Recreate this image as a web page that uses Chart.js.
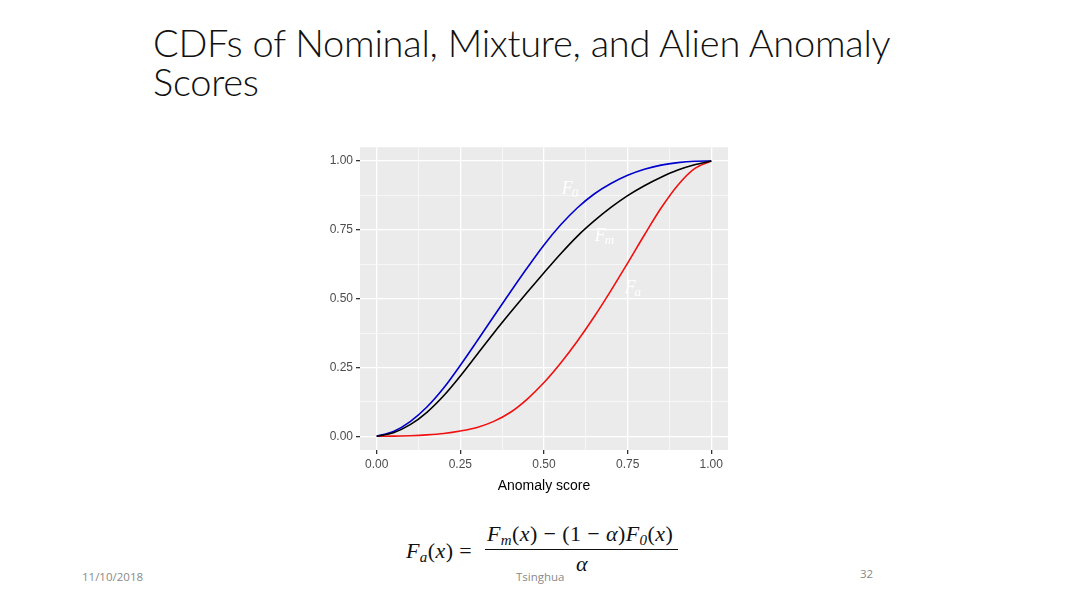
<!DOCTYPE html>
<html>
<head>
<meta charset="utf-8">
<script src="https://cdn.jsdelivr.net/npm/chart.js@4.4.1/dist/chart.umd.min.js"></script>
<style>
  body { margin: 0; width: 1080px; height: 607px; background: #fff; position: relative; overflow: hidden; font-family: Lato, sans-serif; }
  #title { position: absolute; left: 153px; top: 23px; font-size: 38px; line-height: 39px; letter-spacing: -0.25px; color: #111; font-weight: 300; white-space: nowrap; }
  #wrap { position: absolute; left: 300px; top: 137px; width: 440px; height: 363px; }
  .foot { position: absolute; font-family: 'Open Sans', sans-serif; font-size: 11.5px; color: #8a8a8a; }
  .fx { position: absolute; font-family: 'Liberation Serif', serif; font-size: 22px; letter-spacing: 0.4px; color: #111; white-space: nowrap; }
  .fx i { font-style: italic; }
  .fx sub { font-size: 15px; font-style: italic; vertical-align: -4px; line-height: 0; }
</style>
</head>
<body>
<div id="title">CDFs of Nominal, Mixture, and Alien Anomaly<br>Scores</div>
<div id="wrap"><canvas id="cdfChart"></canvas></div>

<div class="fx" style="left:406px;top:538px"><i>F</i><sub>a</sub>(<i>x</i>) =</div>
<div class="fx" style="left:487px;top:521px"><i>F</i><sub>m</sub>(<i>x</i>) − (1 − <i>α</i>)<i>F</i><sub>0</sub>(<i>x</i>)</div>
<div style="position:absolute;left:485px;top:549px;width:193px;height:1.3px;background:#111"></div>
<div class="fx" style="left:576px;top:551px"><i>α</i></div>

<div class="foot" style="left:82px;top:569px">11/10/2018</div>
<div class="foot" style="left:516px;top:569px">Tsinghua</div>
<div class="foot" style="left:860px;top:566px">32</div>

<script>
// anomaly score grid
const scores = [0, 0.05, 0.1, 0.15, 0.2, 0.25, 0.3, 0.35, 0.4, 0.45, 0.5, 0.55, 0.6, 0.65, 0.7, 0.75, 0.8, 0.85, 0.9, 0.95, 1];
// F0 - nominal (blue)
const nominalCdf = [0, 0.017, 0.053, 0.106, 0.175, 0.258, 0.346, 0.436, 0.525, 0.612, 0.695, 0.768, 0.83, 0.88, 0.918, 0.948, 0.97, 0.985, 0.994, 0.999, 1];
// Fm - mixture (black)
const mixtureCdf = [0, 0.013, 0.042, 0.087, 0.147, 0.219, 0.297, 0.375, 0.45, 0.523, 0.594, 0.663, 0.727, 0.782, 0.831, 0.874, 0.91, 0.941, 0.967, 0.986, 1];
// Fa - alien (red)
const alienCdf = [0, 0.0003, 0.002, 0.005, 0.01, 0.019, 0.032, 0.054, 0.087, 0.135, 0.195, 0.266, 0.346, 0.434, 0.529, 0.629, 0.731, 0.829, 0.912, 0.972, 1];

const majorBreaks = [0, 0.25, 0.5, 0.75, 1];
const gridBreaks = [0, 0.125, 0.25, 0.375, 0.5, 0.625, 0.75, 0.875, 1];

// in-panel curve labels
const labelSubs = ['0', 'm', 'a'];
const labelX = [0.553, 0.652, 0.741];
const labelY = [0.88, 0.71, 0.519];

const tickFont = { family: "'Liberation Sans', Arial, sans-serif", size: 12 };
const isMajor = v => majorBreaks.includes(v);
const toPoints = ys => scores.map((x, i) => ({ x, y: ys[i] }));

const panelBg = {
  id: 'panelBg',
  beforeDraw(chart) {
    const { ctx, chartArea: a } = chart;
    ctx.save();
    ctx.fillStyle = '#ebebeb';
    ctx.fillRect(a.left, a.top, a.width, a.height);
    ctx.restore();
  }
};

const curveLabels = {
  id: 'curveLabels',
  afterDatasetsDraw(chart) {
    const { ctx, scales: { x, y } } = chart;
    ctx.save();
    ctx.fillStyle = '#ffffff';
    labelSubs.forEach((s, i) => {
      const px = x.getPixelForValue(labelX[i]);
      const py = y.getPixelForValue(labelY[i]);
      ctx.font = 'italic 18px "Liberation Serif", serif';
      ctx.fillText('F', px, py);
      const w = ctx.measureText('F').width;
      ctx.font = 'italic 13px "Liberation Serif", serif';
      ctx.fillText(s, px + w - 1, py + 3);
    });
    ctx.restore();
  }
};

const axisCommon = {
  type: 'linear',
  min: -0.05,
  max: 1.05,
  afterBuildTicks: s => { s.ticks = gridBreaks.map(v => ({ value: v })); },
  border: { display: false },
  grid: {
    color: '#ffffff',
    lineWidth: c => (isMajor(c.tick.value) ? 1.3 : 0.6),
    tickColor: c => (isMajor(c.tick.value) ? '#333333' : 'rgba(0,0,0,0)'),
    tickLength: 4
  },
  ticks: {
    autoSkip: false,
    maxRotation: 0,
    color: '#4d4d4d',
    font: tickFont,
    padding: 3,
    callback: v => (isMajor(v) ? v.toFixed(2) : '')
  }
};

new Chart(document.getElementById('cdfChart'), {
  type: 'line',
  data: {
    datasets: [
      { label: 'Fm', data: toPoints(mixtureCdf), borderColor: '#000000' },
      { label: 'F0', data: toPoints(nominalCdf), borderColor: '#0000cd' },
      { label: 'Fa', data: toPoints(alienCdf), borderColor: '#f01010' }
    ].map(d => Object.assign(d, { borderWidth: 1.6, pointRadius: 0, fill: false, cubicInterpolationMode: 'monotone' }))
  },
  options: {
    responsive: true,
    maintainAspectRatio: false,
    animation: false,
    layout: { padding: { top: 5, right: 12, left: 0, bottom: 0 } },
    plugins: { legend: { display: false }, tooltip: { enabled: false } },
    scales: {
      x: Object.assign({}, axisCommon, {
        afterFit: s => { s.height = 50; },
        title: { display: true, text: 'Anomaly score', color: '#000', font: { family: tickFont.family, size: 14 }, padding: { top: 0, bottom: 5 } }
      }),
      y: Object.assign({}, axisCommon, {
        afterFit: s => { s.width = 60; }
      })
    }
  },
  plugins: [panelBg, curveLabels]
});
</script>
</body>
</html>
